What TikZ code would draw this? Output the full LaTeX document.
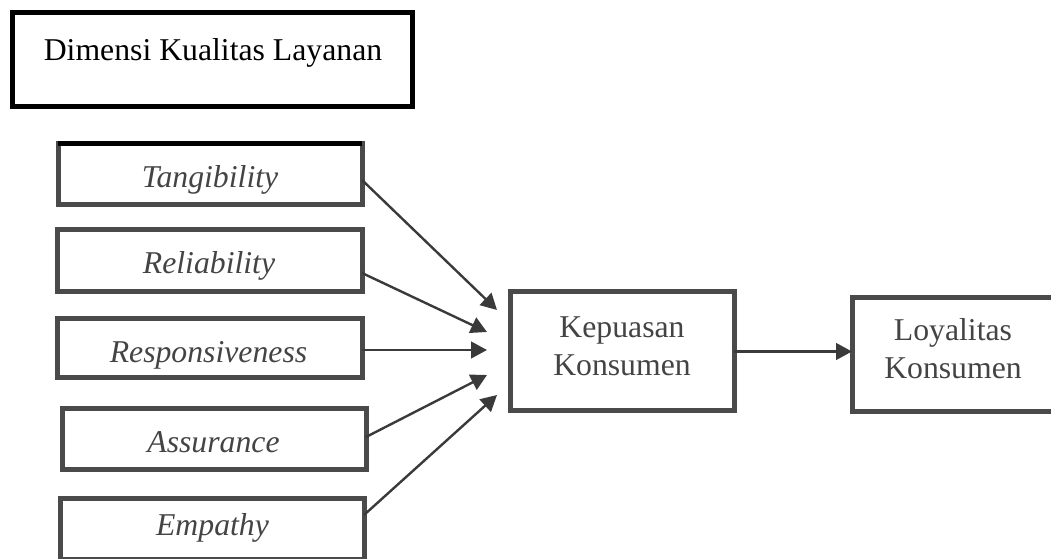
\documentclass[tikz,border=0pt]{standalone}
\usepackage{fontspec}
\setmainfont{Liberation Serif}
\usetikzlibrary{arrows.meta,calc}
\definecolor{bordergray}{HTML}{4A4A4A}
\definecolor{textgray}{HTML}{444444}
\definecolor{arrowgray}{HTML}{3A3A3A}
\tikzset{
  boxshape/.style={draw=bordergray, line width=3.75pt, rectangle, inner sep=0pt, outer sep=0pt},
  boxtext/.style={text=textgray, inner sep=0pt, anchor=base, font=\fontsize{23.8pt}{28.5pt}\selectfont\itshape},
  twoline/.style={text=textgray, inner sep=0pt, align=center, font=\fontsize{23.8pt}{28.5pt}\selectfont},
  conn/.style={draw=arrowgray, line width=1.8pt, -{Triangle[length=12pt,width=12.5pt]}}
}
\begin{document}
\begin{tikzpicture}[x=0.75pt,y=-0.75pt]
\useasboundingbox (0,0) rectangle (1051,559);
% title box
\node[boxshape, draw=black, minimum width=400*0.75pt, minimum height=94*0.75pt] (title) at (212,60) {};
\node[inner sep=0pt, anchor=base, font=\fontsize{23.8pt}{28.5pt}\selectfont] (titletext) at (213,61) {Dimensi Kualitas Layanan};
% dimension boxes
\node[boxshape, minimum width=304*0.75pt, minimum height=61*0.75pt] (tang) at (210,174.5) {};
\draw[black, line width=3.75pt] (tang.north west) -- (tang.north east);
\node[boxshape, minimum width=305*0.75pt, minimum height=62*0.75pt] (rel) at (209.5,261) {};
\node[boxshape, minimum width=305*0.75pt, minimum height=59*0.75pt] (resp) at (209.5,348.5) {};
\node[boxshape, minimum width=304*0.75pt, minimum height=61*0.75pt] (assur) at (214,439.5) {};
\node[boxshape, minimum width=304*0.75pt, minimum height=61*0.75pt] (emp) at (212,529.5) {};
\node[boxtext] (tangT) at (210,188) {Tangibility};
\node[boxtext] (relT) at (209,274) {Reliability};
\node[boxtext] (respT) at (208.5,363) {Responsiveness};
\node[boxtext] (assurT) at (213.5,453) {Assurance};
\node[boxtext] (empT) at (212.5,536) {Empathy};
% outcome boxes
\node[boxshape, minimum width=224*0.75pt, minimum height=119*0.75pt] (kep) at (622,351.5) {};
\node[twoline] (kepT) at (622,346) {Kepuasan\\Konsumen};
\node[boxshape, minimum width=202*0.75pt, minimum height=114*0.75pt] (loy) at (953,355) {};
\node[twoline] (loyT) at (953,349) {Loyalitas\\Konsumen};
% arrow tips
\coordinate (t1) at (497,310);
\coordinate (t2) at (487,332);
\coordinate (t3) at (487,350);
\coordinate (t4) at (487,375);
\coordinate (t5) at (497,395);
\draw[conn] ($(tang.east)+(0,5.5)$) -- (t1);
\draw[conn] ($(rel.east)+(0,12)$) -- (t2);
\draw[conn] ($(resp.east)+(0,1.5)$) -- (t3);
\draw[conn] ($(assur.east)+(0,-2.5)$) -- (t4);
\draw[conn] ($(emp.east)+(0,-14.5)$) -- (t5);
\draw[conn] (kep.east) -- (kep.east -| loy.west);
\end{tikzpicture}
\end{document}
